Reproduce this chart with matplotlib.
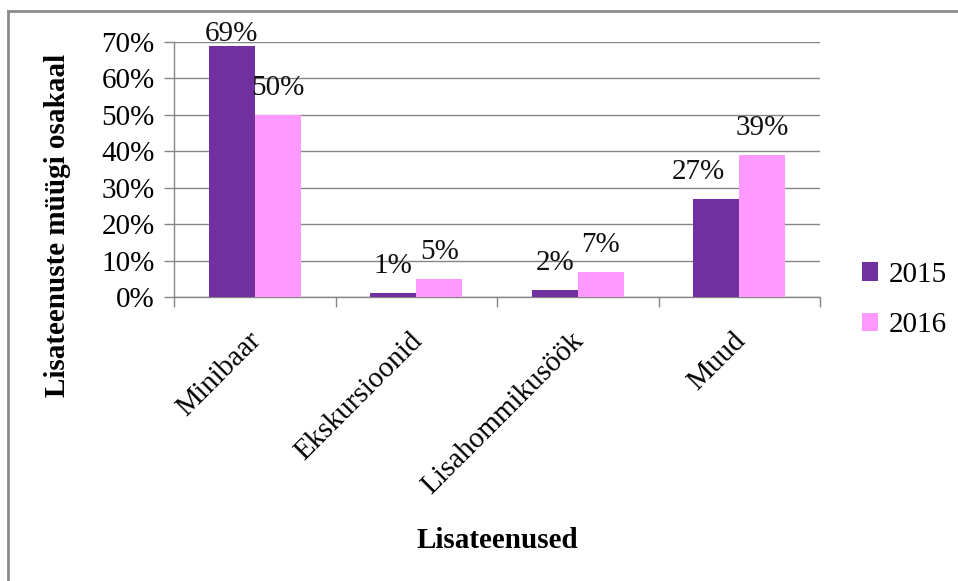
"""Lisateenuste müügi osakaal 2015 vs 2016 (grouped bar chart)."""

import matplotlib

matplotlib.use("Agg")
import matplotlib.pyplot as plt
import matplotlib.transforms as mtransforms
from matplotlib.lines import Line2D
from matplotlib.ticker import FixedLocator, PercentFormatter
import numpy as np

categories = ["Minibaar", "Ekskursioonid", "Lisahommikusöök", "Muud"]
years = ["2015", "2016"]
share_2015 = [69, 1, 2, 27]
share_2016 = [50, 5, 7, 39]

colors = {"2015": "#7030A0", "2016": "#FF99FF"}
grey = "#868686"

plt.rcParams["font.family"] = ["Liberation Serif", "DejaVu Serif"]

fig = plt.figure(figsize=(9.58, 5.81), dpi=100)
ax = fig.add_axes([174 / 958, 1 - 297 / 581, (820 - 174) / 958, (297 - 42) / 581])

x = np.arange(len(categories))
width = 0.285
series = {"2015": share_2015, "2016": share_2016}

# label nudges in points (dx, dy) where the default spot would collide
nudge = {("2015", 0): (0, -11), ("2015", 3): (-13, 0)}

for i, year in enumerate(years):
    vals = series[year]
    xs = x + (i - 0.5) * width
    ax.bar(xs, vals, width, color=colors[year], label=year, zorder=3)
    for j, (xx, v) in enumerate(zip(xs, vals)):
        dx, dy = nudge.get((year, j), (0, 0))
        ax.annotate(f"{v}%", (xx, v), xytext=(dx, 10 + dy),
                    textcoords="offset points", ha="center", va="bottom",
                    fontsize=21, color="#111111", zorder=4)

ax.set_xlim(-0.5, len(categories) - 0.5)
ax.set_ylim(0, 70)
ax.set_yticks(np.arange(0, 71, 10))
ax.yaxis.set_major_formatter(PercentFormatter(decimals=0))
ax.yaxis.grid(True, color=grey, linewidth=1.0, zorder=0)

# category boundaries carry the tick marks, names sit on minor ticks
ax.xaxis.set_major_locator(FixedLocator(np.arange(-0.5, len(categories), 1.0)))
ax.xaxis.set_major_formatter(plt.NullFormatter())
ax.xaxis.set_minor_locator(FixedLocator(x))
ax.set_xticklabels(categories, minor=True, rotation=45, ha="right",
                   rotation_mode="anchor", fontsize=21)
ax.tick_params(axis="x", which="minor", length=0, pad=22)
ax.tick_params(axis="x", which="major", length=7, width=1, color=grey,
               direction="out")
ax.tick_params(axis="y", length=7, width=1, color=grey, labelsize=21,
               pad=7)

shift = mtransforms.ScaledTranslation(-5 / 72, 0, fig.dpi_scale_trans)
for lbl in ax.get_xticklabels(minor=True):
    lbl.set_transform(lbl.get_transform() + shift)

for side in ("top", "right"):
    ax.spines[side].set_visible(False)
for side in ("left", "bottom"):
    ax.spines[side].set_color(grey)
    ax.spines[side].set_linewidth(1.0)

fig.text(58 / 958, 1 - 225 / 581, "Lisateenuste müügi osakaal", rotation=90,
         ha="center", va="center", fontsize=21, fontweight="bold")
fig.text(497 / 958, 1 - 540 / 581, "Lisateenused", ha="center",
         va="center", fontsize=21, fontweight="bold")

fig.legend(loc="center left", bbox_to_anchor=(862 / 958, 1 - 300 / 581),
           frameon=False, fontsize=21, handlelength=0.55, handleheight=0.6,
           handletextpad=0.35, labelspacing=0.85, borderpad=0, borderaxespad=0)

# chart frame, only the top and left edges fall inside the image
fig.add_artist(Line2D([8 / 958, 8 / 958], [0, 1 - 11 / 581],
                      transform=fig.transFigure, color="#8c8c8c", lw=2))
fig.add_artist(Line2D([8 / 958, 1], [1 - 11 / 581, 1 - 11 / 581],
                      transform=fig.transFigure, color="#8c8c8c", lw=2))

fig.savefig("out.png", dpi=100)
